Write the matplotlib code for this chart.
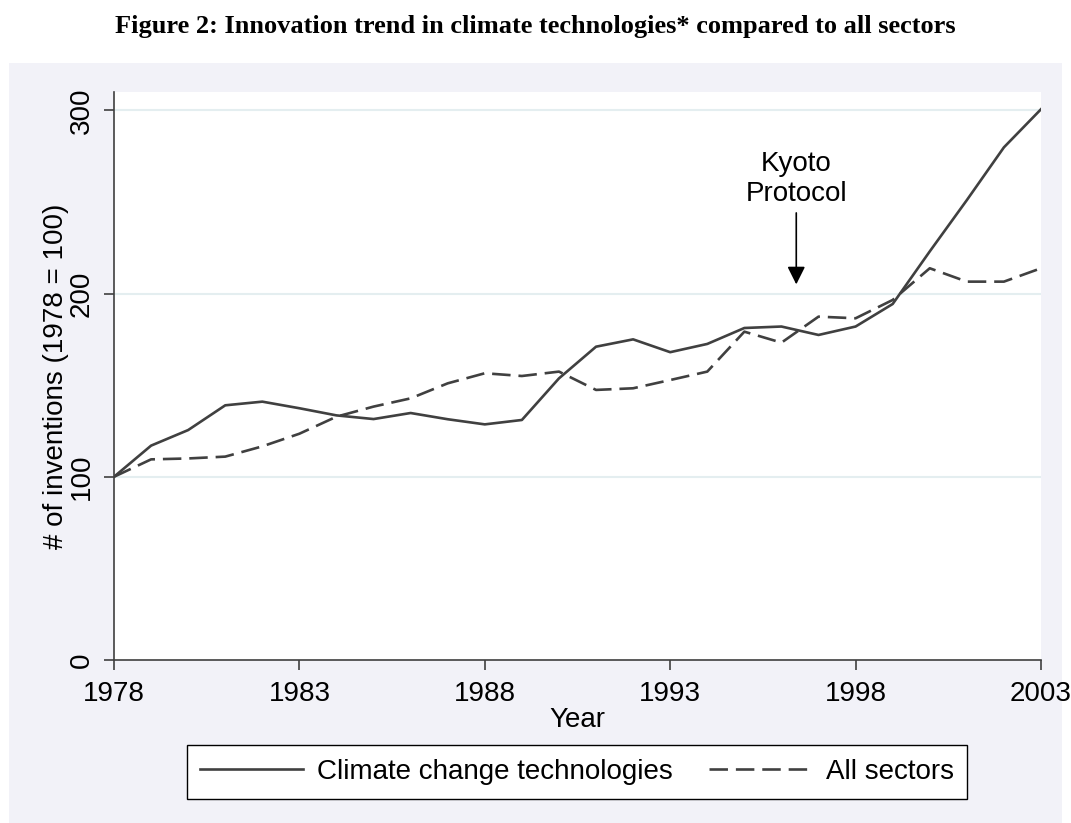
import numpy as np
import matplotlib.pyplot as plt
from matplotlib.patches import Rectangle

# data (index 1978 = 100)
years = list(range(1978, 2004))
climate = [100, 117, 125.5, 139, 141, 137.4, 133.5, 131.5, 134.8, 131.4, 128.6, 131,
           153.7, 171, 175, 168, 172.5, 181.2, 182, 177.4, 182, 194.3, 223, 251, 279.8, 300.6]
all_sectors = [100, 109.5, 110, 111, 116.6, 123.5, 132.8, 138.3, 142.8, 151, 156.5, 155,
               157.4, 147.4, 148.3, 152.8, 157.4, 179.2, 173.2, 187.4, 186.5, 196.5, 213.8, 206.5, 206.5, 213.8]
yticks = [0, 100, 200, 300]
xticks = [1978, 1983, 1988, 1993, 1998, 2003]

line_color = '#404040'
panel_color = '#F2F2F8'
grid_color = '#E4EEF0'

plt.rcParams['font.family'] = ['Liberation Sans', 'DejaVu Sans']

fig = plt.figure(figsize=(10.71, 8.23), dpi=100)
fig.patches.append(Rectangle((9 / 1071, 0), 1053 / 1071, 1 - 63 / 823,
                             transform=fig.transFigure, facecolor=panel_color,
                             edgecolor='none', zorder=-10))

ax = fig.add_axes([114 / 1071, 1 - 660 / 823, 927 / 1071, 568 / 823])
ax.set_zorder(5)
ax.set_facecolor('white')

ax.plot(years, climate, '-', color=line_color, lw=1.9, label='Climate change technologies')
ax.plot(years, all_sectors, '--', color=line_color, lw=1.9, dashes=(7, 3), label='All sectors')

ax.set_xlim(1978, 2003)
ax.set_ylim(0, 310)
ax.set_xticks(xticks)
ax.set_yticks(yticks)
ax.set_yticklabels([str(v) for v in yticks], rotation=90, va='center')
for v in yticks[1:]:
    ax.axhline(v, color=grid_color, lw=1.5, zorder=0)

for s in ['top', 'right']:
    ax.spines[s].set_visible(False)
for s in ['left', 'bottom']:
    ax.spines[s].set_color(line_color)
    ax.spines[s].set_linewidth(1.2)
ax.tick_params(axis='both', direction='out', length=7, width=1.2, color=line_color,
               labelsize=20, pad=8)
ax.tick_params(axis='y', pad=7)

ax.set_xlabel('Year', fontsize=20, labelpad=0)
ax.set_ylabel('# of inventions (1978 = 100)', fontsize=20, labelpad=0)

# Kyoto annotation
ax.annotate('', xy=(1996.4, 205), xytext=(1996.4, 244),
            arrowprops=dict(arrowstyle='-|>,head_length=0.6,head_width=0.3',
                            mutation_scale=18, color='black', lw=1.2,
                            shrinkA=0, shrinkB=0))
ax.text(1996.4, 262.5, 'Kyoto\nProtocol', ha='center', va='center',
        fontsize=20, linespacing=1.2)

fig.text(0.5, 1 - 27 / 823,
         'Figure 2: Innovation trend in climate technologies* compared to all sectors',
         ha='center', va='center', fontsize=19, fontweight='bold',
         family=['Liberation Serif', 'DejaVu Serif'])

leg = fig.legend(loc='center', bbox_to_anchor=(577 / 1071, 1 - 772 / 823), ncol=2,
                 fontsize=20, frameon=True, fancybox=False, edgecolor='black',
                 framealpha=1, handlelength=3.7, columnspacing=1.3, handletextpad=0.5,
                 borderpad=0.5)
leg.get_frame().set_linewidth(1.0)

fig.savefig('out.png', dpi=100, facecolor='white')
